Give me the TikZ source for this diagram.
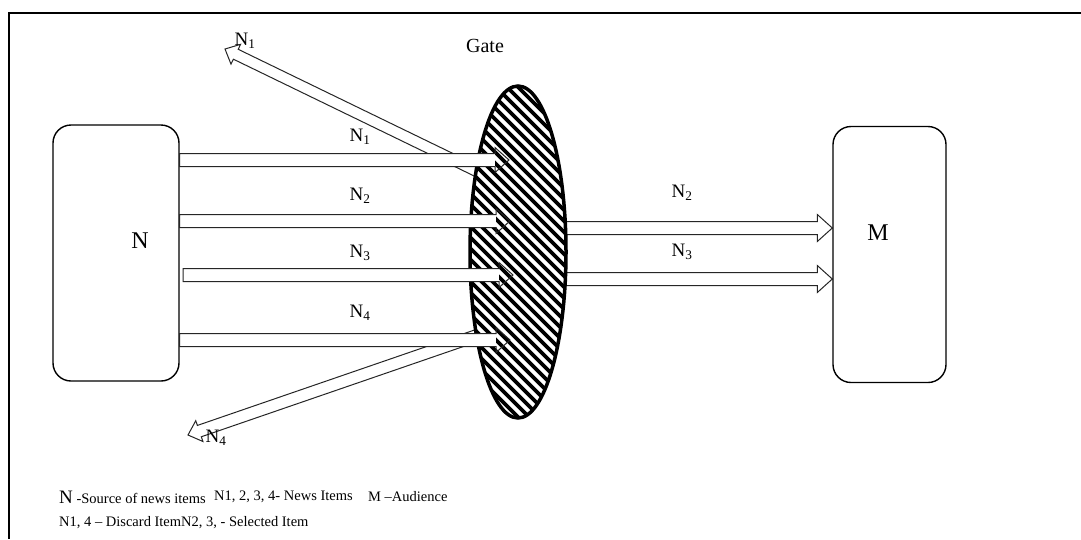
\documentclass[tikz,border=0pt]{standalone}
\usepackage{fontspec}
\setmainfont{Liberation Serif}
\usetikzlibrary{positioning}
\usetikzlibrary{calc}
\usetikzlibrary{backgrounds}
\usetikzlibrary{shapes.geometric}

\tikzset{
    box/.style={draw, line width=1.4pt, rounded corners=18pt, minimum width=#1, minimum height=256pt, inner sep=0pt},
    gateshape/.style={ellipse, draw, line width=3.5pt, fill=white, minimum width=96pt, minimum height=332pt, inner sep=0pt},
    arrowline/.style={draw=black!85, line width=1pt, line join=miter},
    itemlabel/.style={inner sep=0pt, font=\fontsize{19}{22}\selectfont},
    legend/.style={inner sep=0pt, anchor=west, font=\fontsize{14.5}{17}\selectfont}
}

% hollow block arrow: shaft half width, head half width, head length, from, to
\newcommand{\blockarrow}[5]{%
    \coordinate (ba-h) at ($(#5)!#3!(#4)$);
    \fill[white] ($(#4)!#1!90:(#5)$) -- ($(ba-h)!#1!-90:(#4)$) -- ($(ba-h)!#1!90:(#4)$) -- ($(#4)!#1!-90:(#5)$) -- cycle;
    \draw[arrowline] ($(#4)!#1!90:(#5)$) -- ($(ba-h)!#1!-90:(#4)$) -- ($(ba-h)!#2!-90:(#4)$) -- (#5)
        -- ($(ba-h)!#2!90:(#4)$) -- ($(ba-h)!#1!90:(#4)$) -- ($(#4)!#1!-90:(#5)$) -- cycle;
}

\begin{document}
\begin{tikzpicture}[x=1pt, y=-1pt]
    \useasboundingbox (0,0) rectangle (1081,539);
    \draw[line width=1.4pt] (1081,13) -- (9,13) -- (9,539);

    \node[box=126pt] (src) at (116,253) {};
    \node[box=113pt] (dst) at (889.5,254.5) {};
    \node[font=\fontsize{24}{28}\selectfont, inner sep=0pt] (srcname) at (140,241) {N};
    \node[font=\fontsize{24}{28}\selectfont, inner sep=0pt] (dstname) at (878,233) {M};

    \node[gateshape, path picture={
        \foreach \k in {-308,-297,...,308}
            \draw[line width=3.8pt] ([xshift=\k pt]path picture bounding box.center) ++(-260,-260) -- ++(520,520);
    }] (gate) at (518,252) {};
    \node[font=\fontsize{20}{24}\selectfont, inner sep=0pt] (gatename) at (485,46) {Gate};

    % discarded and selected items
    \coordinate (d1) at (225,49);
    \coordinate (d4) at (188,435);
    \coordinate (s2) at (dst.west |- 0,228);
    \coordinate (s3) at (dst.west |- 0,279);
    \begin{pgfonlayer}{background}
        \blockarrow{5.5pt}{11pt}{12pt}{495,180}{d1}
        \blockarrow{6pt}{11pt}{12pt}{490,331}{d4}
        \blockarrow{6.5pt}{13.5pt}{15pt}{gate.center |- s2}{s2}
        \blockarrow{6.5pt}{13.5pt}{15pt}{gate.center |- s3}{s3}
    \end{pgfonlayer}

    % news items into the gate
    \coordinate (t1) at (509,160);
    \coordinate (t2) at (510,221);
    \coordinate (t3) at (513,275);
    \coordinate (t4) at (510,340);
    \blockarrow{6.5pt}{12.5pt}{14pt}{src.east |- t1}{t1}
    \blockarrow{6.5pt}{12.5pt}{14pt}{src.east |- t2}{t2}
    \blockarrow{6.5pt}{12.5pt}{14pt}{183,275}{t3}
    \blockarrow{6.5pt}{12.5pt}{14pt}{src.east |- t4}{t4}

    \node[itemlabel] (l1) at (360,137) {N\textsubscript{1}};
    \node[itemlabel] (l2) at (360,196) {N\textsubscript{2}};
    \node[itemlabel] (l3) at (360,253) {N\textsubscript{3}};
    \node[itemlabel] (l4) at (360,313) {N\textsubscript{4}};
    \node[itemlabel] (o2) at (682,193) {N\textsubscript{2}};
    \node[itemlabel] (o3) at (682,252) {N\textsubscript{3}};
    \node[itemlabel] (x1) at (245,41) {N\textsubscript{1}};
    \node[itemlabel] (x4) at (216,438) {N\textsubscript{4}};

    % legend
    \node[legend] (key1) at (59,497) {{\fontsize{19}{22}\selectfont N} -Source of news items};
    \node[legend] (key2) at (214,497) {N1, 2, 3, 4- News Items};
    \node[legend] (key3) at (368,497) {M --Audience};
    \node[legend] (key4) at (59,523) {N1, 4 -- Discard ItemN2, 3, - Selected Item};
\end{tikzpicture}
\end{document}
